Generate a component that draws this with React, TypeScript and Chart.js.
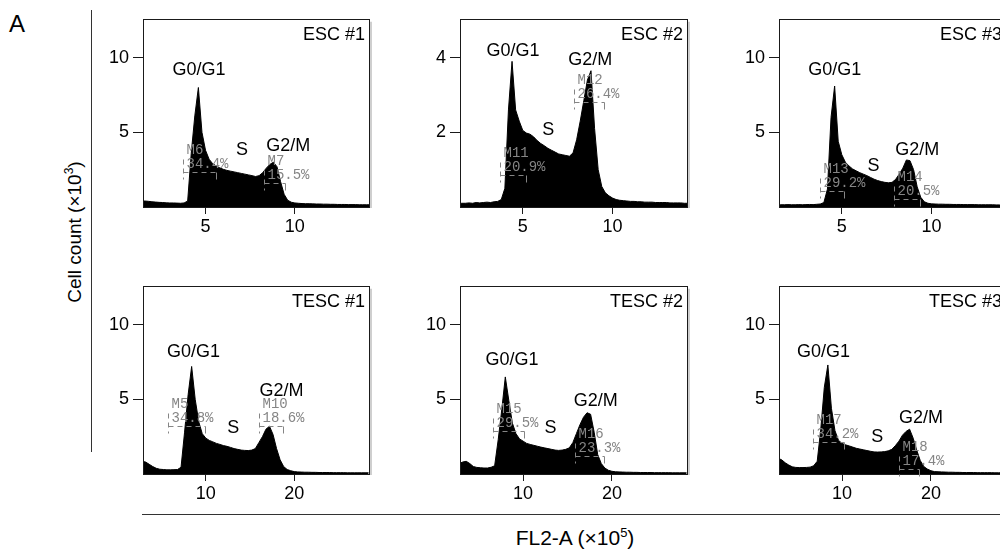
import React, { useEffect, useRef } from "react";
import { Chart, registerables } from "chart.js";

Chart.register(...registerables);

const FONT = '"Liberation Sans", Arial, Helvetica, sans-serif';
const MONO = '"Liberation Mono", "DejaVu Sans Mono", monospace';

// FL2-A channel bins (x10^5)
const binsESC = [
  1.4, 1.6, 1.8, 2.0, 2.2, 2.4, 2.6, 2.8, 3.0, 3.2, 3.4, 3.6, 3.8, 4.0,
  4.2, 4.4, 4.6, 4.8, 5.0, 5.2, 5.4, 5.6, 5.8, 6.0, 6.2, 6.4, 6.6, 6.8, 7.0, 7.2, 7.4, 7.6, 7.8, 8.0,
  8.2, 8.4, 8.6, 8.8, 9.0, 9.2, 9.4, 9.6, 9.8, 10.0,
  10.2, 10.4, 10.6, 10.8, 11.0, 11.2, 11.4, 11.6, 11.8, 12.0, 12.2, 12.4, 12.6, 12.8, 13.0, 13.2, 13.4, 13.6, 13.8, 14.0, 14.2,
];
const binsTESC = [
  2.8, 3.2, 3.6, 4.0, 4.4, 4.8, 5.2, 5.6, 6.0, 6.4, 6.8, 7.2,
  7.6, 8.0, 8.4, 8.8, 9.2, 9.6, 10.0, 10.4, 10.8, 11.2, 11.6, 12.0, 12.4, 12.8, 13.2, 13.6, 14.0, 14.4, 14.8, 15.2,
  15.6, 16.0, 16.4, 16.8, 17.2, 17.6, 18.0, 18.4, 18.8, 19.2, 19.6, 20.0,
  20.4, 20.8, 21.2, 21.6, 22.0, 22.4, 22.8, 23.2, 23.6, 24.0, 24.4, 24.8, 25.2, 25.6, 26.0, 26.4, 26.8, 27.2, 27.6, 28.0, 28.4,
];

// Cell counts (x10^3)
const esc1 = [
  0.42, 0.4, 0.38, 0.35, 0.33, 0.31, 0.3, 0.28, 0.27, 0.27, 0.26, 0.25, 0.27, 0.4,
  3.6, 6.1, 8.0, 5.0, 3.8, 3.2, 2.9, 2.75, 2.62, 2.52, 2.45, 2.4, 2.35, 2.3, 2.25, 2.2, 2.15, 2.1, 2.04, 2.1,
  2.3, 2.6, 2.85, 3.0, 2.7, 1.7, 0.85, 0.45, 0.32, 0.27,
  0.25, 0.23, 0.22, 0.22, 0.21, 0.2, 0.2, 0.19, 0.19, 0.18, 0.18, 0.17, 0.17, 0.17, 0.16, 0.16, 0.16, 0.15, 0.15, 0.15, 0.15,
];
const esc2 = [
  0.1, 0.1, 0.1, 0.11, 0.1, 0.12, 0.11, 0.12, 0.13, 0.12, 0.14, 0.15, 0.2, 0.5,
  2.6, 3.9, 2.6, 2.3, 2.05, 1.98, 1.95, 1.88, 1.78, 1.7, 1.64, 1.57, 1.52, 1.47, 1.42, 1.4, 1.38, 1.36, 1.45, 1.8,
  2.3, 2.85, 3.4, 3.65, 2.1, 1.0, 0.55, 0.38, 0.3, 0.24,
  0.2, 0.18, 0.17, 0.16, 0.15, 0.15, 0.14, 0.14, 0.13, 0.13, 0.13, 0.12, 0.12, 0.12, 0.12, 0.11, 0.11, 0.11, 0.11, 0.1, 0.1,
];
const esc3 = [
  0.16, 0.15, 0.15, 0.16, 0.15, 0.15, 0.16, 0.15, 0.16, 0.17, 0.16, 0.18, 0.2, 0.3,
  1.2, 6.0, 8.1, 4.4, 3.5, 3.0, 2.75, 2.55, 2.42, 2.3, 2.2, 2.1, 1.98, 1.86, 1.77, 1.7, 1.65, 1.62, 1.65, 1.85,
  2.2, 2.6, 3.15, 3.1, 2.5, 1.35, 0.65, 0.35, 0.25, 0.21,
  0.2, 0.19, 0.19, 0.18, 0.18, 0.17, 0.17, 0.17, 0.16, 0.16, 0.16, 0.16, 0.15, 0.15, 0.15, 0.15, 0.15, 0.14, 0.14, 0.14, 0.14,
];
const tesc1 = [
  0.85, 0.8, 0.65, 0.5, 0.38, 0.32, 0.3, 0.28, 0.28, 0.29, 0.3, 0.45,
  2.8, 5.3, 7.2, 5.0, 3.5, 2.7, 2.4, 2.25, 2.15, 2.05, 1.98, 1.9, 1.85, 1.78, 1.7, 1.65, 1.6, 1.58, 1.57, 1.6,
  1.7, 2.1, 2.5, 3.0, 3.2, 2.65, 1.7, 0.95, 0.5, 0.3, 0.22, 0.16,
  0.14, 0.13, 0.12, 0.12, 0.11, 0.11, 0.1, 0.1, 0.1, 0.1, 0.09, 0.09, 0.09, 0.09, 0.08, 0.08, 0.08, 0.08, 0.08, 0.08, 0.08,
];
const tesc2 = [
  0.7, 0.8, 0.85, 0.7, 0.5, 0.44, 0.42, 0.4, 0.4, 0.45, 0.55, 2.3,
  4.3, 6.5, 4.9, 3.4, 2.7, 2.35, 2.2, 2.05, 1.98, 1.92, 1.86, 1.8, 1.75, 1.7, 1.65, 1.6, 1.58, 1.6, 1.65, 1.75,
  2.1, 2.7, 3.3, 3.8, 4.1, 4.0, 2.8, 1.3, 0.7, 0.4, 0.25, 0.18,
  0.15, 0.14, 0.13, 0.12, 0.12, 0.11, 0.11, 0.1, 0.1, 0.1, 0.1, 0.09, 0.09, 0.09, 0.09, 0.09, 0.08, 0.08, 0.08, 0.08, 0.08,
];
const tesc3 = [
  1.05, 0.95, 0.75, 0.6, 0.48, 0.44, 0.43, 0.43, 0.44, 0.46, 0.55, 0.85,
  3.0, 5.8, 7.3, 4.4, 2.9, 2.25, 2.05, 1.95, 1.88, 1.8, 1.72, 1.67, 1.62, 1.57, 1.52, 1.48, 1.47, 1.48, 1.5, 1.55,
  1.65, 1.9, 2.2, 2.6, 2.85, 3.0, 2.4, 1.6, 0.9, 0.5, 0.33, 0.22,
  0.16, 0.15, 0.14, 0.13, 0.12, 0.12, 0.11, 0.11, 0.1, 0.1, 0.1, 0.1, 0.09, 0.09, 0.09, 0.09, 0.09, 0.08, 0.08, 0.08, 0.08,
];

const panelTitles = ["ESC #1", "ESC #2", "ESC #3", "TESC #1", "TESC #2", "TESC #3"];
const xTicksESC = [5, 10];
const xTicksTESC = [10, 20];
const yTicksWide = [5, 10];
const yTicksESC2 = [2, 4];

const phaseNames = ["G0/G1", "S", "G2/M"];
const phaseX = [
  [4.63, 7.04, 9.63], [4.46, 6.42, 8.76], [4.61, 6.76, 9.2],
  [8.6, 13.11, 18.57], [8.75, 13.09, 18.19], [7.92, 13.96, 18.87],
];
const phaseY = [
  [9.2, 3.82, 4.05], [4.18, 2.07, 3.93], [9.2, 2.77, 3.82],
  [8.17, 3.1, 5.53], [7.64, 3.1, 4.9], [8.17, 2.47, 3.74],
];

const markerNames = [["M6", "M7"], ["M11", "M12"], ["M13", "M14"], ["M5", "M10"], ["M15", "M16"], ["M17", "M18"]];
const markerPct = [["34.4%", "15.5%"], ["20.9%", "26.4%"], ["29.2%", "20.5%"], ["34.8%", "18.6%"], ["29.5%", "23.3%"], ["34.2%", "17.4%"]];
const markerFrom = [[3.76, 8.28], [3.75, 7.83], [3.76, 7.92], [5.67, 16.04], [6.6, 15.84], [6.78, 16.41]];
const markerTo = [[5.61, 9.44], [5.17, 9.55], [5.11, 9.38], [9.92, 18.75], [10.15, 19.13], [10.18, 18.67]];
const markerLevel = [[2.35, 1.6], [0.85, 2.82], [1.08, 0.55], [3.2, 3.2], [2.9, 1.2], [2.15, 0.36]];

// layout (pixels)
const COL_LEFT = [143, 460, 779];
const COL_W = [226, 227, 227];
const ROW_TOP = [8, 275];
const BOX_H = 199;
const YW = 60;
const XH = 40;
const PT = 4;
const PR = 8;

type PanelCfg = {
  idx: number;
  bins: number[];
  values: number[];
  xMin: number;
  xMax: number;
  yMax: number;
  xTicks: number[];
  yTicks: number[];
  left: number;
  top: number;
  w: number;
};

const seriesList = [esc1, esc2, esc3, tesc1, tesc2, tesc3];

const panels: PanelCfg[] = seriesList.map((values, idx) => {
  const row = idx < 3 ? 0 : 1;
  const col = idx % 3;
  return {
    idx,
    bins: row === 0 ? binsESC : binsTESC,
    values,
    xMin: row === 0 ? 1.5 : 2.9,
    xMax: row === 0 ? 14.15 : 28.45,
    yMax: idx === 1 ? 5.04 : 12.6,
    xTicks: row === 0 ? xTicksESC : xTicksTESC,
    yTicks: idx === 1 ? yTicksESC2 : yTicksWide,
    left: COL_LEFT[col],
    top: ROW_TOP[row],
    w: COL_W[col],
  };
});

function Panel({ cfg }: { cfg: PanelCfg }) {
  const ref = useRef<HTMLCanvasElement>(null);
  const cw = YW + cfg.w + PR;
  const ch = PT + BOX_H + XH;

  useEffect(() => {
    const canvas = ref.current;
    if (!canvas) return;
    const i = cfg.idx;
    const decor = {
      id: "decor",
      afterDraw(chart: any) {
        const { ctx, chartArea: a, scales } = chart;
        const xs = scales.x;
        const ys = scales.y;
        ctx.save();
        // light drop shadow on the right edge
        ctx.strokeStyle = "#cfcfcf";
        ctx.lineWidth = 2;
        ctx.beginPath();
        ctx.moveTo(a.right + 2, a.top + 3);
        ctx.lineTo(a.right + 2, a.bottom + 1);
        ctx.stroke();
        // frame
        ctx.strokeStyle = "#1a1a1a";
        ctx.lineWidth = 1;
        ctx.strokeRect(
          Math.round(a.left) + 0.5,
          Math.round(a.top) + 0.5,
          Math.round(a.right - a.left),
          Math.round(a.bottom - a.top)
        );
        // title
        ctx.fillStyle = "#000";
        ctx.font = `18px ${FONT}`;
        ctx.textAlign = "right";
        ctx.textBaseline = "middle";
        ctx.fillText(panelTitles[i], a.right - 4, a.top + 16);
        // phase labels
        ctx.textAlign = "center";
        phaseNames.forEach((p, k) => {
          ctx.fillText(p, xs.getPixelForValue(phaseX[i][k]), ys.getPixelForValue(phaseY[i][k]));
        });
        // gates / markers
        ctx.strokeStyle = "#858585";
        ctx.fillStyle = "#858585";
        ctx.lineWidth = 1;
        ctx.font = `14px ${MONO}`;
        ctx.textAlign = "left";
        const line = (x1: number, y1: number, x2: number, y2: number) => {
          ctx.beginPath();
          ctx.moveTo(x1, y1);
          ctx.lineTo(x2, y2);
          ctx.stroke();
        };
        markerNames[i].forEach((name, k) => {
          const x1 = Math.round(xs.getPixelForValue(markerFrom[i][k])) + 0.5;
          const x2 = Math.round(xs.getPixelForValue(markerTo[i][k])) + 0.5;
          const y = Math.round(ys.getPixelForValue(markerLevel[i][k])) + 0.5;
          ctx.setLineDash([5, 4]);
          line(x1, y, x2, y);
          line(x1, y - 13, x1, y + 7);
          ctx.setLineDash([]);
          line(x2, y, x2, y + 7);
          ctx.fillText(name, x1 + 3, y - 22);
          ctx.fillText(markerPct[i][k], x1 + 3, y - 8);
        });
        ctx.restore();
      },
    };

    const tickFont = { family: FONT, size: 18 };
    const chart = new Chart(canvas, {
      type: "line",
      data: {
        datasets: [
          {
            data: cfg.bins.map((x, k) => ({ x, y: cfg.values[k] })),
            borderColor: "#000",
            backgroundColor: "#000",
            borderWidth: 1,
            fill: "origin",
            pointRadius: 0,
            tension: 0,
          },
        ],
      },
      options: {
        responsive: false,
        animation: false,
        events: [],
        layout: { padding: { top: PT, right: PR, left: 0, bottom: 0 } },
        plugins: {
          legend: { display: false },
          tooltip: { enabled: false },
          title: { display: false },
        },
        scales: {
          x: {
            type: "linear",
            min: cfg.xMin,
            max: cfg.xMax,
            afterBuildTicks: (s: any) => {
              s.ticks = cfg.xTicks.map((v) => ({ value: v }));
            },
            afterFit: (s: any) => {
              s.height = XH;
            },
            grid: {
              display: true,
              drawOnChartArea: false,
              drawTicks: true,
              tickLength: 7,
              color: "#1a1a1a",
              lineWidth: 1,
            },
            border: { display: false },
            ticks: { color: "#000", font: tickFont, padding: 2, maxRotation: 0, autoSkip: false },
          },
          y: {
            type: "linear",
            min: 0,
            max: cfg.yMax,
            afterBuildTicks: (s: any) => {
              s.ticks = cfg.yTicks.map((v) => ({ value: v }));
            },
            afterFit: (s: any) => {
              s.width = YW;
            },
            grid: {
              display: true,
              drawOnChartArea: false,
              drawTicks: true,
              tickLength: 10,
              color: "#1a1a1a",
              lineWidth: 1,
            },
            border: { display: false },
            ticks: { color: "#000", font: tickFont, padding: 4, autoSkip: false },
          },
        },
      },
      plugins: [decor],
    } as any);
    return () => chart.destroy();
  }, [cfg]);

  return (
    <canvas
      ref={ref}
      width={cw}
      height={ch}
      style={{
        position: "absolute",
        left: cfg.left - YW,
        top: cfg.top - PT,
        width: cw,
        height: ch,
        display: "block",
      }}
    />
  );
}

export default function App() {
  return (
    <div
      style={{
        position: "fixed",
        left: 0,
        top: 0,
        width: 1000,
        height: 551,
        overflow: "hidden",
        background: "#fff",
        fontFamily: FONT,
        color: "#000",
      }}
    >
      <div style={{ position: "absolute", left: 9, top: 10, fontSize: 24, lineHeight: "normal" }}>A</div>
      <div style={{ position: "absolute", left: 91, top: 10, width: 1, height: 442, background: "#333" }} />
      <div
        style={{
          position: "absolute",
          left: 74,
          top: 232,
          transform: "translate(-50%, -50%) rotate(-90deg)",
          whiteSpace: "nowrap",
          fontSize: 19,
        }}
      >
        Cell count (×10<sup style={{ fontSize: 12 }}>3</sup>)
      </div>
      <div style={{ position: "absolute", left: 142, top: 514, width: 870, height: 1, background: "#333" }} />
      <div
        style={{
          position: "absolute",
          left: 575,
          top: 537,
          transform: "translate(-50%, -50%)",
          whiteSpace: "nowrap",
          fontSize: 21,
        }}
      >
        FL2-A (×10<sup style={{ fontSize: 13 }}>5</sup>)
      </div>
      {panels.map((p) => (
        <Panel key={p.idx} cfg={p} />
      ))}
    </div>
  );
}
